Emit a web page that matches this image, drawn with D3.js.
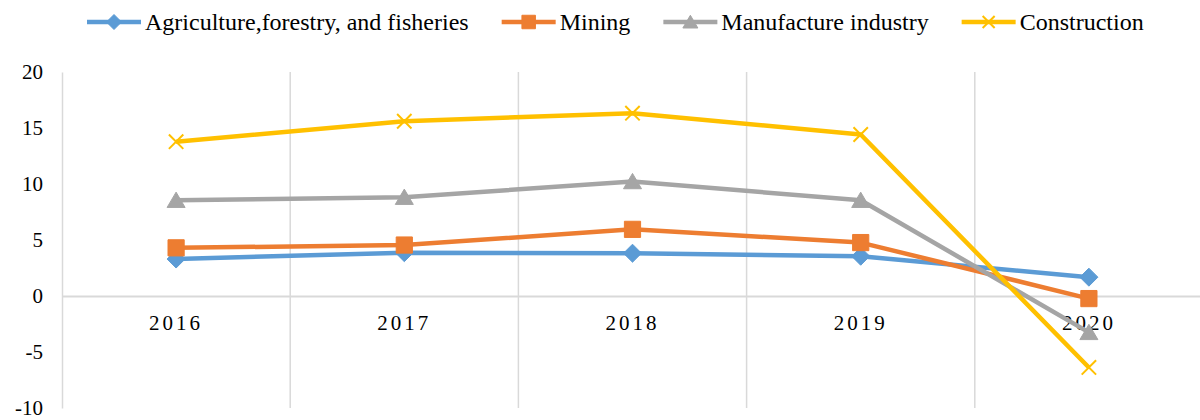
<!DOCTYPE html>
<html>
<head>
<meta charset="utf-8">
<script src="https://cdn.jsdelivr.net/npm/d3@7"></script>
<style>
  body { margin: 0; background: #fff; }
</style>
</head>
<body>
<div id="chart"></div>
<script>
// data
const years = ["2016", "2017", "2018", "2019", "2020"];
const agriculture = [3.3, 3.87, 3.82, 3.55, 1.68];
const mining = [4.3, 4.55, 5.95, 4.77, -0.23];
const manufacture = [8.55, 8.82, 10.22, 8.55, -3.25];
const construction = [13.78, 15.6, 16.32, 14.42, -6.38];
const yTicks = [-10, -5, 0, 5, 10, 15, 20];

const seriesNames = ["Agriculture,forestry, and fisheries", "Mining", "Manufacture industry", "Construction"];
const seriesColors = ["#5B9BD5", "#ED7D31", "#A5A5A5", "#FFC000"];

const FONT = "'Liberation Serif', 'Times New Roman', 'DejaVu Serif', serif";
const W = 1200, H = 420;
const margin = {top: 72, right: -3, bottom: 12, left: 62};

const series = [agriculture, mining, manufacture, construction].map((vals, i) => ({
    name: seriesNames[i],
    color: seriesColors[i],
    marker: ["diamond", "square", "triangle", "x"][i],
    values: vals.map((v, j) => ({year: years[j], value: v}))
}));

const svg = d3.select("#chart").append("svg")
    .attr("width", W)
    .attr("height", H)
    .attr("font-family", FONT);

const x = d3.scaleBand()
    .domain(years)
    .range([margin.left, W - margin.right])
    .padding(0);

const y = d3.scaleLinear()
    .domain([-10, 20])
    .range([H - margin.bottom, margin.top]);

const grey = "#D9D9D9";

// vertical gridlines at category boundaries
svg.append("g")
    .selectAll("line")
    .data(years.slice(1))
    .enter().append("line")
    .attr("x1", d => x(d))
    .attr("x2", d => x(d))
    .attr("y1", y(20))
    .attr("y2", y(-10))
    .attr("stroke", grey)
    .attr("stroke-width", 1.5);

// y axis
const yAxis = svg.append("g")
    .attr("transform", `translate(${margin.left},0)`)
    .call(d3.axisLeft(y).tickValues(yTicks).tickFormat(d => String(d))
        .tickSize(0).tickSizeOuter(0).tickPadding(19));
yAxis.attr("font-family", FONT).attr("font-size", 21);
yAxis.select(".domain").attr("stroke", grey).attr("stroke-width", 1.5);
yAxis.selectAll("text").attr("fill", "#000").attr("dy", "0.33em");

// x axis on the zero line
const xAxis = svg.append("g")
    .attr("transform", `translate(0,${y(0)})`)
    .call(d3.axisBottom(x).tickSize(0).tickSizeOuter(0).tickPadding(19));
xAxis.attr("font-family", FONT).attr("font-size", 21);
xAxis.select(".domain").attr("stroke", grey).attr("stroke-width", 2);
xAxis.selectAll("text")
    .attr("fill", "#000")
    .attr("letter-spacing", "3px");

// marker shapes
const markerTypes = {
    diamond: {draw(ctx, s) { ctx.moveTo(0, -s); ctx.lineTo(s, 0); ctx.lineTo(0, s); ctx.lineTo(-s, 0); ctx.closePath(); }},
    square: {draw(ctx, s) { const h = s * 0.9; ctx.moveTo(-h, -h); ctx.lineTo(h, -h); ctx.lineTo(h, h); ctx.lineTo(-h, h); ctx.closePath(); }},
    triangle: {draw(ctx, s) { ctx.moveTo(0, -s * 0.9); ctx.lineTo(s, s * 0.8); ctx.lineTo(-s, s * 0.8); ctx.closePath(); }},
    x: {draw(ctx, s) { const h = s * 0.8; ctx.moveTo(-h, -h); ctx.lineTo(h, h); ctx.moveTo(h, -h); ctx.lineTo(-h, h); }}
};

function drawMarker(sel, d, size) {
    const path = d3.symbol().type(markerTypes[d.marker]).size(size);
    sel.append("path")
        .attr("d", path())
        .attr("fill", d.marker == "x" ? "none" : d.color)
        .attr("stroke", d.color)
        .attr("stroke-width", d.marker == "x" ? 2 : 1);
}

const line = d3.line()
    .x(d => x(d.year) + x.bandwidth() / 2)
    .y(d => y(d.value));

series.forEach(s => {
    const g = svg.append("g");
    g.append("path")
        .datum(s.values)
        .attr("d", line)
        .attr("fill", "none")
        .attr("stroke", s.color)
        .attr("stroke-width", 4.5)
        .attr("stroke-linejoin", "round");
    s.values.forEach(v => {
        const m = g.append("g")
            .attr("transform", `translate(${x(v.year) + x.bandwidth() / 2},${y(v.value)})`);
        drawMarker(m, s, 9);
    });
});

// legend
const legend = svg.append("g").attr("transform", "translate(87,22)");
let lx = 0;
series.forEach(s => {
    const item = legend.append("g").attr("transform", `translate(${lx},0)`);
    item.append("line")
        .attr("x1", 0).attr("x2", 54)
        .attr("stroke", s.color)
        .attr("stroke-width", 4.5);
    const m = item.append("g").attr("transform", "translate(27,0)");
    drawMarker(m, s, 7.5);
    const t = item.append("text")
        .attr("x", 58)
        .attr("dy", "0.33em")
        .attr("font-size", 24)
        .attr("fill", "#000")
        .text(s.name);
    lx += 58 + t.node().getComputedTextLength() + 33;
});
</script>
</body>
</html>
